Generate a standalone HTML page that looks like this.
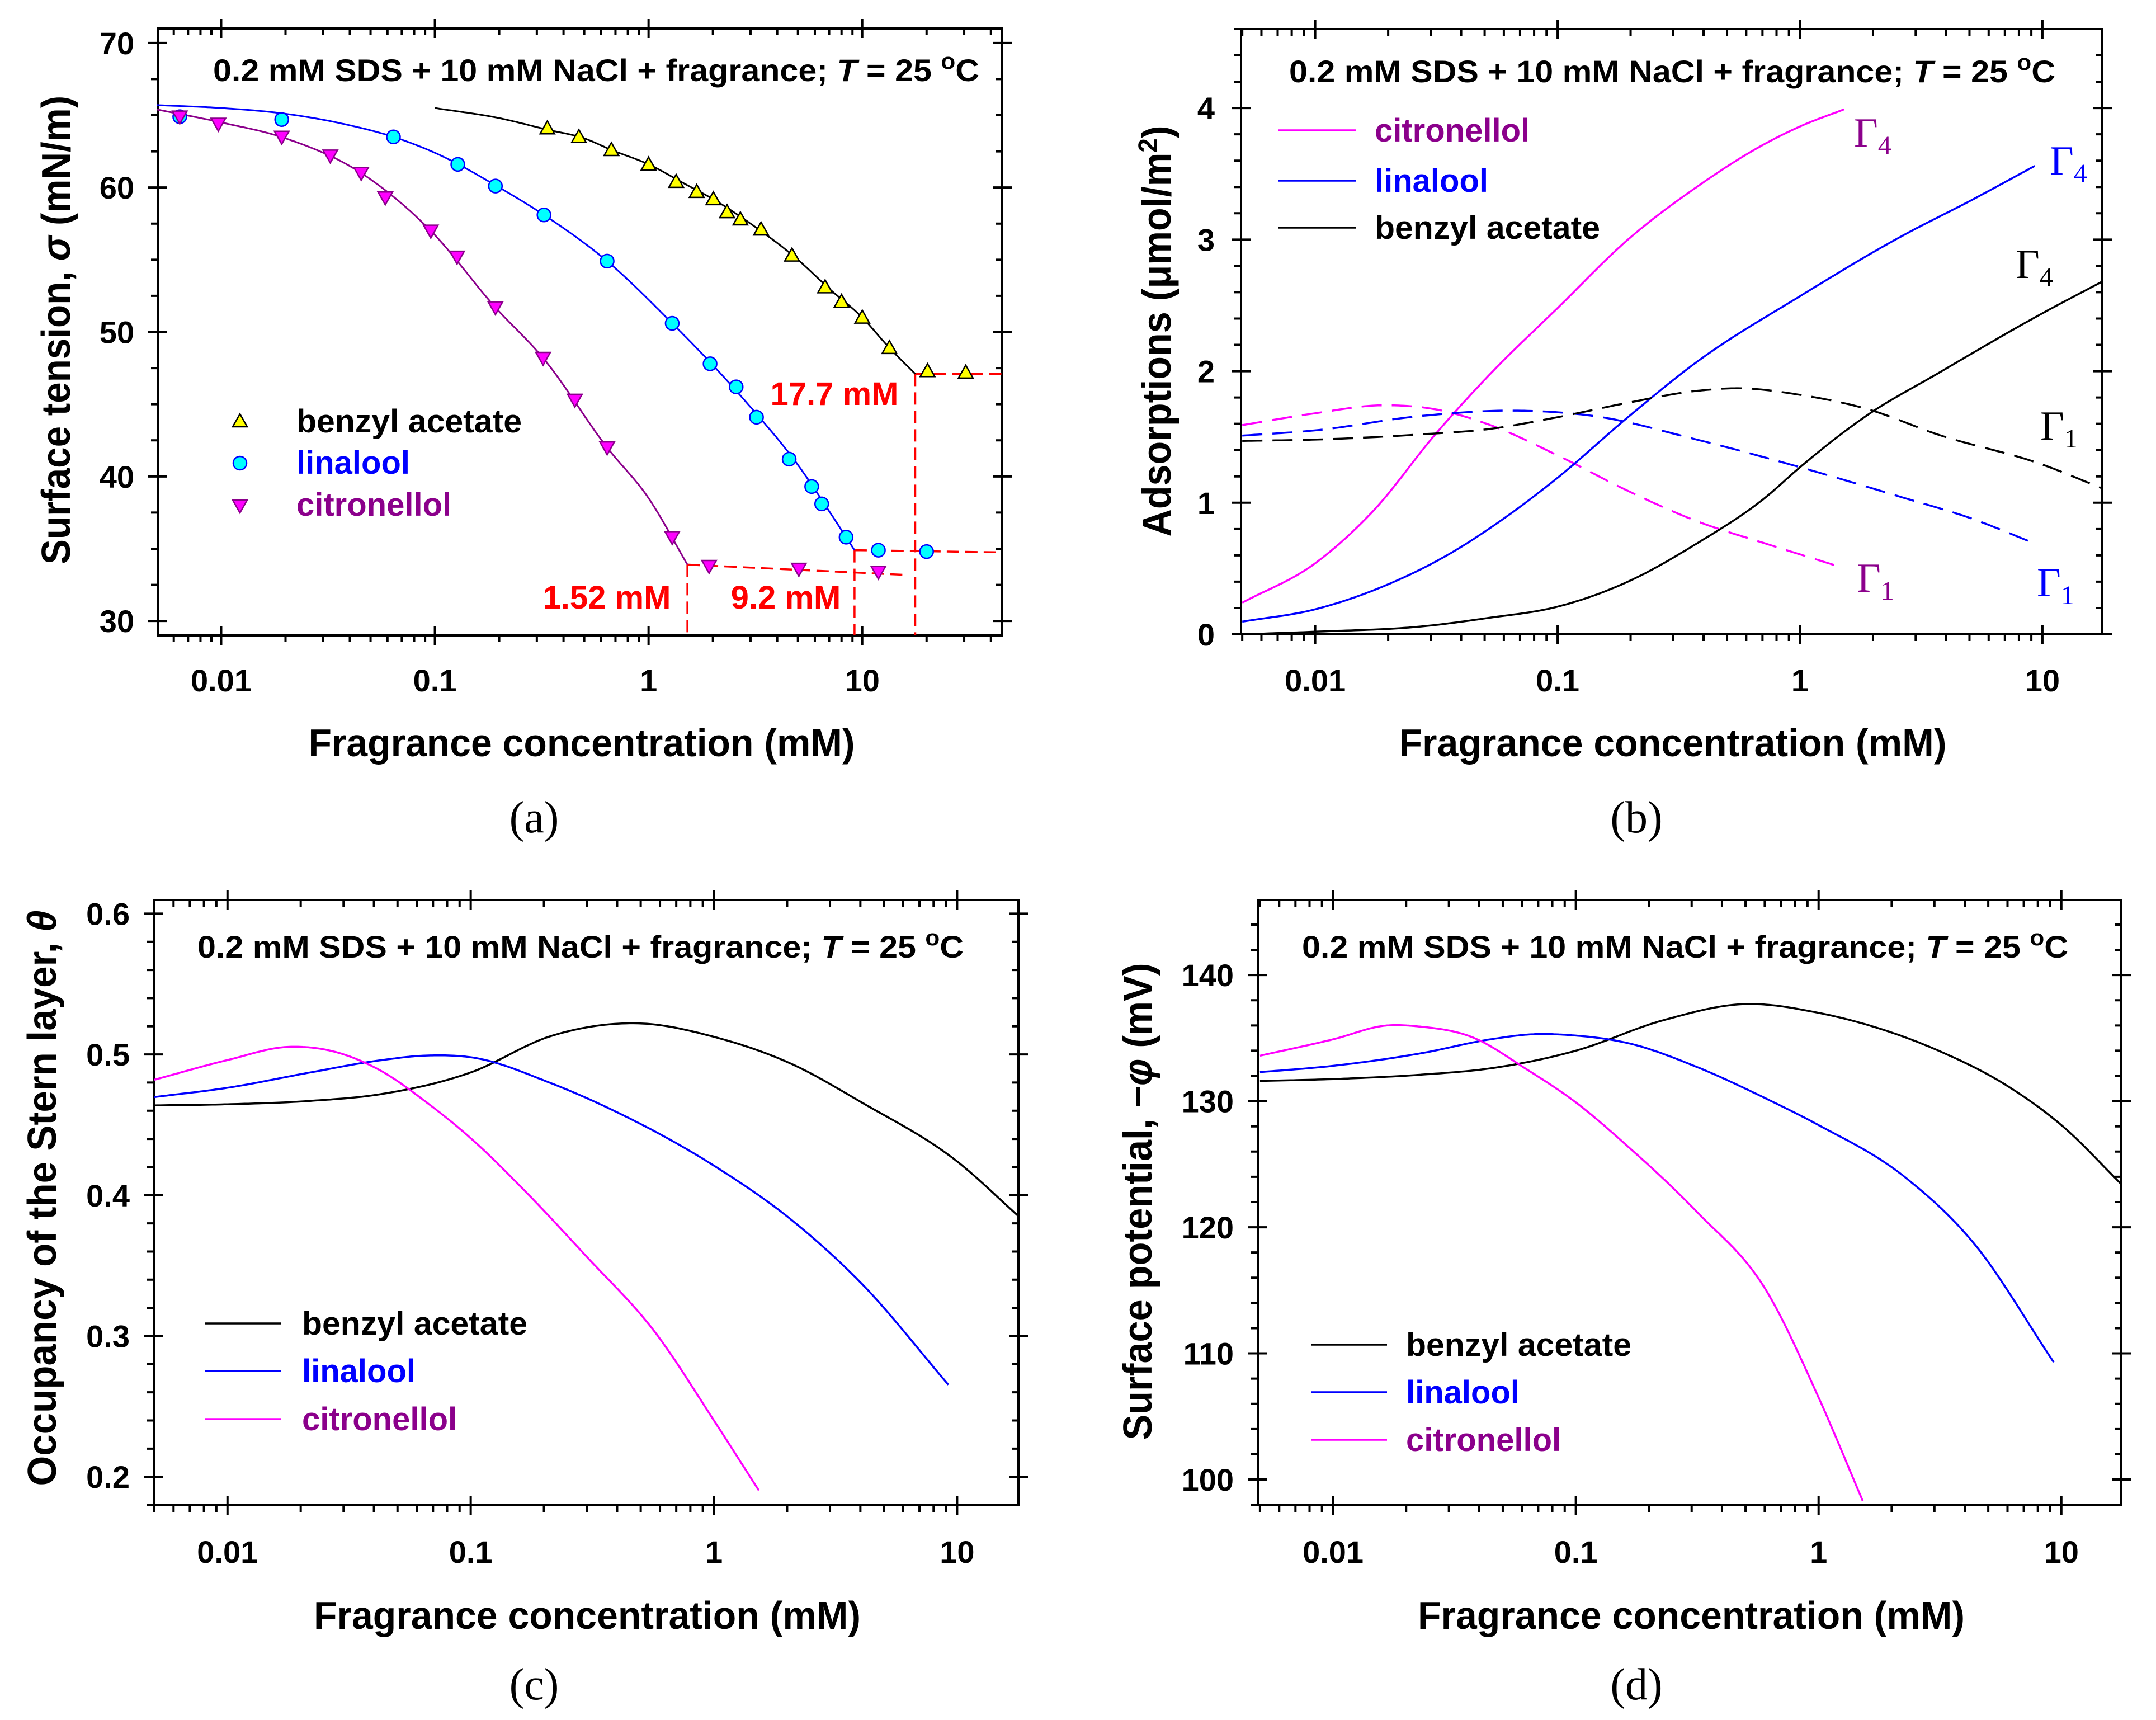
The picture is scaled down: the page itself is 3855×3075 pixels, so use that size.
<!DOCTYPE html>
<html><head><meta charset="utf-8"><style>
html,body{margin:0;padding:0;background:#fff;}
svg{display:block;}
.t{font-family:"Liberation Sans Narrow","Liberation Sans",sans-serif;font-weight:bold;}
.w{font-family:"Liberation Sans",sans-serif;font-weight:bold;}
.s{font-family:"Liberation Serif",serif;}
</style></head><body>
<svg id="fig" width="3855" height="3075" viewBox="0 0 3855 3075" xmlns="http://www.w3.org/2000/svg"></svg>
<script>
// ---------- Panel (a) data ----------
const aBenzylPtsX=[0.336,0.472,0.67,1.0,1.346,1.68,2.01,2.33,2.69,3.36,4.69,6.7,8.0,10,13.4,20.2,30.5];
const aBenzylPtsY=[64.1,63.5,62.6,61.6,60.4,59.7,59.2,58.3,57.8,57.1,55.3,53.1,52.1,51.0,48.9,47.3,47.2];
const aBenzylFitX=[0.1,0.2,0.336,0.5,0.67,1,1.5,2,3,5,7,10,13.4,17.7];
const aBenzylFitY=[65.5,64.8,64.0,63.4,62.6,61.6,60.2,59.2,57.5,55.0,53.0,51.0,48.9,47.1];
const aLinaloolPtsX=[0.0064,0.0192,0.064,0.128,0.192,0.324,0.64,1.29,1.94,2.57,3.2,4.55,5.8,6.46,8.4,11.9,20];
const aLinaloolPtsY=[64.9,64.7,63.5,61.6,60.1,58.1,54.9,50.6,47.8,46.2,44.1,41.2,39.3,38.1,35.8,34.9,34.8];
const aLinaloolFitX=[0.005,0.01,0.02,0.04,0.064,0.1,0.2,0.324,0.64,1.29,2,3,5,7,9.2];
const aLinaloolFitY=[65.7,65.5,65.1,64.3,63.5,62.4,60.0,58.1,54.9,50.6,47.7,44.8,40.8,37.6,34.9];
const aCitroPtsX=[0.0064,0.0097,0.0192,0.0324,0.0452,0.0586,0.0957,0.127,0.192,0.321,0.452,0.64,1.29,1.92,5.05,11.9];
const aCitroPtsY=[64.9,64.4,63.5,62.2,61.0,59.3,57.0,55.2,51.7,48.2,45.3,42.0,35.8,33.8,33.6,33.4];
const aCitroFitX=[0.005,0.01,0.02,0.0452,0.0957,0.192,0.321,0.64,1.0,1.52];
const aCitroFitY=[65.4,64.5,63.4,61.0,57.0,51.7,48.2,42.0,38.5,33.9];
const aCmcX=[17.7,9.2,1.52];
const aCmcY=[47.1,34.9,33.9];
const aCmcEndX=[45,45,15.4];
const aCmcEndY=[47.1,34.75,33.2];
const aCmcLabels=["17.7 mM","9.2 mM","1.52 mM"];
const aYTicks=[30,40,50,60,70];
// ---------- Panel (b) data ----------
const bCitroG4X=[0.005,0.01,0.0174,0.0313,0.0528,0.1,0.195,0.375,0.72,1.0,1.52];
const bCitroG4Y=[0.24,0.54,0.94,1.52,1.98,2.48,3.0,3.40,3.73,3.86,3.99];
const bCitroG1X=[0.005,0.01,0.0186,0.0313,0.0528,0.1,0.195,0.375,0.72,1.48];
const bCitroG1Y=[1.59,1.68,1.74,1.71,1.59,1.36,1.09,0.86,0.69,0.51];
const bLinG4X=[0.005,0.01,0.02,0.0357,0.06,0.1,0.195,0.375,1.0,2.65,5.1,9.3];
const bLinG4Y=[0.096,0.19,0.38,0.61,0.88,1.19,1.65,2.07,2.57,3.03,3.30,3.56];
const bLinG1X=[0.005,0.01,0.0275,0.0686,0.14,0.375,1.0,2.65,5.1,9.3];
const bLinG1Y=[1.51,1.55,1.66,1.70,1.66,1.48,1.27,1.04,0.88,0.69];
const bBenG4X=[0.005,0.01,0.0275,0.052,0.1,0.195,0.375,0.72,1.0,1.91,3.68,10,17.6];
const bBenG4Y=[0.0,0.02,0.06,0.125,0.21,0.40,0.69,1.04,1.27,1.67,1.98,2.44,2.68];
const bBenG1X=[0.005,0.01,0.0275,0.052,0.1,0.195,0.375,0.555,1.0,1.91,3.68,10,17.6];
const bBenG1Y=[1.47,1.48,1.52,1.56,1.65,1.76,1.85,1.87,1.82,1.71,1.52,1.29,1.11];
const bYTicks=[0,1,2,3,4];
// ---------- Panel (c) data ----------
const cBenX=[0.005,0.01,0.0219,0.042,0.1,0.215,0.5,1,2.1,4.06,10,17.9];
const cBenY=[0.4638,0.4646,0.467,0.4716,0.4872,0.5132,0.522,0.5125,0.493,0.4658,0.424,0.385];
const cLinX=[0.005,0.01,0.0219,0.042,0.066,0.1,0.215,0.41,1,2.1,4.06,9.2];
const cLinY=[0.4697,0.4763,0.4872,0.4957,0.4992,0.498,0.4794,0.458,0.421,0.382,0.337,0.2654];
const cCitX=[0.005,0.01,0.018,0.0264,0.042,0.066,0.1,0.166,0.298,0.575,1,1.53];
const cCitY=[0.482,0.496,0.5054,0.5027,0.4891,0.4658,0.4405,0.4035,0.3568,0.3023,0.240,0.1903];
const cYTicks=[0.2,0.3,0.4,0.5,0.6];
// ---------- Panel (d) data ----------
const dBenX=[0.005,0.01,0.0231,0.0445,0.1,0.228,0.5,1,1.62,3.12,6.0,10,17.7];
const dBenY=[131.6,131.75,132.1,132.6,134.0,136.4,137.7,137.0,136.0,134.0,131.2,128.1,123.4];
const dLinX=[0.005,0.01,0.0231,0.0445,0.0658,0.1,0.164,0.316,0.608,1,2.26,4.33,9.3];
const dLinY=[132.3,132.8,133.8,134.9,135.3,135.2,134.6,132.7,130.2,128.1,124.0,118.8,109.3];
const dCitX=[0.005,0.01,0.0167,0.0231,0.0371,0.063,0.1,0.164,0.316,0.608,1,1.52];
const dCitY=[133.6,134.9,136.0,135.9,135.1,132.5,129.9,126.4,121.2,115.0,106.5,98.3];
const dYTicks=[100,110,120,130,140];
const xTickVals=[0.01,0.1,1,10];
const xTickLabels=["0.01","0.1","1","10"];

const NS="http://www.w3.org/2000/svg";
const svg=document.getElementById('fig');
function mk(tag,attrs,parent){const e=document.createElementNS(NS,tag);for(const k in attrs)e.setAttribute(k,attrs[k]);(parent||svg).appendChild(e);return e;}

function makeAxes(P){
  P.sx=v=>P.x0+(Math.log10(v)-P.lx0)/(P.lx1-P.lx0)*(P.x1-P.x0);
  P.sy=v=>P.y1-(v-P.v0)/(P.v1-P.v0)*(P.y1-P.y0);
  const g=mk('g',{});
  
  
  const fr=mk('rect',{x:P.x0,y:P.y0,width:P.x1-P.x0,height:P.y1-P.y0,fill:'none',stroke:'#000','stroke-width':4},g);
  
  
  let d='';
  for(let n=-3;n<=2;n++){for(let k=1;k<=9;k++){const v=k*Math.pow(10,n);const lv=Math.log10(v);if(lv<P.lx0||lv>P.lx1)continue;const x=P.sx(v);
    if(k===1){d+=`M${x},${P.y1-17}V${P.y1+17}M${x},${P.y0-17}V${P.y0+17}`;}
    else{d+=`M${x},${P.y1}V${P.y1+12}M${x},${P.y0}V${P.y0+12}`;}}}
  for(let v=P.v0ceil;v<=P.v1+1e-9;v+=P.minor){const y=P.sy(v);const isMaj=Math.abs(v/P.major-Math.round(v/P.major))<1e-6;
    if(isMaj){d+=`M${P.x0-17},${y}H${P.x0+17}M${P.x1-17},${y}H${P.x1+17}`;}
    else{d+=`M${P.x0-12},${y}H${P.x0}M${P.x1-12},${y}H${P.x1}`;}}
  const tk=mk('path',{d:d,stroke:'#000','stroke-width':4,fill:'none'},g);
  
  
  xTickVals.forEach((v,i)=>{const t=mk('text',{x:P.sx(v),y:P.xlabY,'text-anchor':'middle','font-size':56,class:'t'},g);t.textContent=xTickLabels[i];
    
    });
  P.yt.forEach(v=>{const t=mk('text',{x:P.ylabX,y:P.sy(v)+20,'text-anchor':'end','font-size':56,class:'t'},g);t.textContent=P.fmt(v);
    
    });
  return P;
}
function curve(P,xs,ys,color,dash,name,w){
  const lx=xs.map(v=>Math.log10(v));const n=lx.length;
  const s=[];for(let i=0;i<n-1;i++)s.push((ys[i+1]-ys[i])/(lx[i+1]-lx[i]));
  const m=[];
  for(let i=0;i<n;i++){
    if(i===0)m.push(s[0]);else if(i===n-1)m.push(s[n-2]);
    else{const h0=lx[i]-lx[i-1],h1=lx[i+1]-lx[i];m.push((h1*s[i-1]+h0*s[i])/(h0+h1));}
  }
  let d='';
  for(let i=0;i<n-1;i++){
    const h=lx[i+1]-lx[i];const steps=24;
    for(let k=(i===0?0:1);k<=steps;k++){
      const t=k/steps,t2=t*t,t3=t2*t;
      const y=(2*t3-3*t2+1)*ys[i]+(t3-2*t2+t)*h*m[i]+(-2*t3+3*t2)*ys[i+1]+(t3-t2)*h*m[i+1];
      const X=P.sx(Math.pow(10,lx[i]+t*h)),Y=P.sy(y);
      d+=(d===''?'M':'L')+X.toFixed(1)+','+Y.toFixed(1);
    }
  }
  const e=mk('path',{d:d,fill:'none',stroke:color,'stroke-width':w||3.5,'stroke-linejoin':'round'});
  if(dash)e.setAttribute('stroke-dasharray',dash);
  
  
  return e;
}
function txt(x,y,s,size,cls,attrs,name){const t=mk('text',Object.assign({x:x,y:y,'font-size':size,class:cls},attrs||{}));t.innerHTML=s;
  
  
  return t;}
const TITLE='0.2 mM SDS + 10 mM NaCl + fragrance; <tspan font-style="italic">T</tspan> = 25 <tspan dy="-22" font-size="40">o</tspan><tspan dy="22">C</tspan>';
const TL={textLength:1370,lengthAdjust:'spacingAndGlyphs','text-anchor':'middle'};

// ===== Panel A =====
const A=makeAxes({name:'panel-a',x0:282,x1:1792,y0:51,y1:1136,lx0:-2.297,lx1:1.655,v0:29,v1:71,v0ceil:30,minor:2.5,major:10,yt:aYTicks,fmt:v=>String(v),xlabY:1236,ylabX:240});
aCmcX.forEach((c,i)=>{const x=A.sx(c),y=A.sy(aCmcY[i]);
  const l=mk('path',{d:`M${x},${y}L${A.sx(aCmcEndX[i])},${A.sy(aCmcEndY[i])}M${x},${y}V${A.y1}`,stroke:'#ff0000','stroke-width':3.5,fill:'none','stroke-dasharray':'22 11'});
  
  });
curve(A,aBenzylFitX,aBenzylFitY,'#000',null,'benzyl-fit-line',3);
curve(A,aLinaloolFitX,aLinaloolFitY,'#0000ff',null,'linalool-fit-line',3);
curve(A,aCitroFitX,aCitroFitY,'#8b008b',null,'citronellol-fit-line',3);
function triUp(x,y){return `M${x},${y-13}L${x+13},${y+10}L${x-13},${y+10}Z`;}
function triDn(x,y){return `M${x-13},${y-10}L${x+13},${y-10}L${x},${y+13}Z`;}
aBenzylPtsX.forEach((v,i)=>{const p=mk('path',{d:triUp(A.sx(v),A.sy(aBenzylPtsY[i])),fill:'#ffff00',stroke:'#000','stroke-width':2.5});
  
  });
aLinaloolPtsX.forEach((v,i)=>{const p=mk('circle',{cx:A.sx(v),cy:A.sy(aLinaloolPtsY[i]),r:12,fill:'#00ffff',stroke:'#0000ff','stroke-width':2.5});
  
  });
aCitroPtsX.forEach((v,i)=>{const p=mk('path',{d:triDn(A.sx(v),A.sy(aCitroPtsY[i])),fill:'#ff00ff',stroke:'#8b008b','stroke-width':2.5});
  
  });
txt(1492,724,aCmcLabels[0],58,'t',{fill:'#ff0000','text-anchor':'middle'},'cmc-label-benzyl');
txt(1405,1088,aCmcLabels[1],58,'t',{fill:'#ff0000','text-anchor':'middle'},'cmc-label-linalool');
txt(1085,1088,aCmcLabels[2],58,'t',{fill:'#ff0000','text-anchor':'middle'},'cmc-label-citronellol');
{const e1=mk('path',{d:triUp(429,753),fill:'#ffff00',stroke:'#000','stroke-width':2.5});
 const e2=mk('circle',{cx:429,cy:828,r:12,fill:'#00ffff',stroke:'#0000ff','stroke-width':2.5});
 const e3=mk('path',{d:triDn(429,904),fill:'#ff00ff',stroke:'#8b008b','stroke-width':2.5});}
txt(530,773,'benzyl acetate',58,'t',{fill:'#000',textLength:403,lengthAdjust:'spacingAndGlyphs'},'legend-benzyl');
txt(530,847,'linalool',58,'t',{fill:'#0000ff'},'legend-linalool');
txt(530,922,'citronellol',58,'t',{fill:'#8b008b'},'legend-citronellol');
txt(1066,145,TITLE,56,'t',TL,'title-a');
txt(1040,1352,'Fragrance concentration (mM)',70,'t',{'text-anchor':'middle',textLength:977,lengthAdjust:'spacingAndGlyphs'},'x-axis-title-a');
txt(0,0,'Surface tension, <tspan font-style="italic">σ</tspan> (mN/m)',72,'w',{'text-anchor':'middle',transform:'translate(125,590) rotate(-90)',textLength:838,lengthAdjust:'spacingAndGlyphs'},'y-axis-title-a');
txt(955,1488,'(a)',80,'s',{'text-anchor':'middle'},'panel-label-a');

// ===== Panel B =====
const B=makeAxes({name:'panel-b',x0:2219,x1:3759,y0:52,y1:1134,lx0:-2.306,lx1:1.247,v0:0,v1:4.6,v0ceil:0,minor:0.2,major:1,yt:bYTicks,fmt:v=>String(v),xlabY:1236,ylabX:2172});
curve(B,bCitroG4X,bCitroG4Y,'#ff00ff',null,'citronellol-gamma4');
curve(B,bCitroG1X,bCitroG1Y,'#ff00ff','36 18','citronellol-gamma1');
curve(B,bLinG4X,bLinG4Y,'#0000ff',null,'linalool-gamma4');
curve(B,bLinG1X,bLinG1Y,'#0000ff','36 18','linalool-gamma1');
curve(B,bBenG4X,bBenG4Y,'#000',null,'benzyl-gamma4');
curve(B,bBenG1X,bBenG1Y,'#000','36 18','benzyl-gamma1');
[[2286,233,'#ff00ff'],[2286,323,'#0000ff'],[2286,407,'#000']].forEach((r,i)=>{const l=mk('path',{d:`M${r[0]},${r[1]}H${r[0]+138}`,stroke:r[2],'stroke-width':3.5});
  
  });
txt(2458,253,'citronellol',58,'t',{fill:'#8b008b'},'legend-b-citronellol');
txt(2458,343,'linalool',58,'t',{fill:'#0000ff'},'legend-b-linalool');
txt(2458,427,'benzyl acetate',58,'t',{fill:'#000',textLength:403,lengthAdjust:'spacingAndGlyphs'},'legend-b-benzyl');
const G4='Γ<tspan dy="14" font-size="48">4</tspan>', G1='Γ<tspan dy="14" font-size="48">1</tspan>';
txt(3315,262,G4,74,'s',{fill:'#8b008b'},'label-gamma4-citronellol');
txt(3665,312,G4,74,'s',{fill:'#0000ff'},'label-gamma4-linalool');
txt(3604,497,G4,74,'s',{fill:'#000'},'label-gamma4-benzyl');
txt(3648,786,G1,74,'s',{fill:'#000'},'label-gamma1-benzyl');
txt(3320,1058,G1,74,'s',{fill:'#8b008b'},'label-gamma1-citronellol');
txt(3642,1066,G1,74,'s',{fill:'#0000ff'},'label-gamma1-linalool');
txt(2990,147,TITLE,56,'t',TL,'title-b');
txt(2991,1352,'Fragrance concentration (mM)',70,'t',{'text-anchor':'middle',textLength:979,lengthAdjust:'spacingAndGlyphs'},'x-axis-title-b');
txt(0,0,'Adsorptions (μmol/m<tspan dy="-24" font-size="48">2</tspan><tspan dy="24">)</tspan>',72,'w',{'text-anchor':'middle',transform:'translate(2093,592) rotate(-90)',textLength:735,lengthAdjust:'spacingAndGlyphs'},'y-axis-title-b');
txt(2926,1488,'(b)',80,'s',{'text-anchor':'middle'},'panel-label-b');

// ===== Panel C =====
const C=makeAxes({name:'panel-c',x0:275,x1:1821,y0:1609,y1:2691,lx0:-2.303,lx1:1.252,v0:0.1798,v1:0.6097,v0ceil:0.18,minor:0.02,major:0.1,yt:cYTicks,fmt:v=>v.toFixed(1),xlabY:2794,ylabX:232});
curve(C,cBenX,cBenY,'#000',null,'benzyl-theta-line');
curve(C,cLinX,cLinY,'#0000ff',null,'linalool-theta-line');
curve(C,cCitX,cCitY,'#ff00ff',null,'citronellol-theta-line');
[[367,2366,'#000'],[367,2451,'#0000ff'],[367,2537,'#ff00ff']].forEach((r,i)=>{const l=mk('path',{d:`M${r[0]},${r[1]}H${r[0]+136}`,stroke:r[2],'stroke-width':3.5});
  
  });
txt(540,2386,'benzyl acetate',58,'t',{fill:'#000',textLength:403,lengthAdjust:'spacingAndGlyphs'},'legend-c-benzyl');
txt(540,2471,'linalool',58,'t',{fill:'#0000ff'},'legend-c-linalool');
txt(540,2557,'citronellol',58,'t',{fill:'#8b008b'},'legend-c-citronellol');
txt(1038,1712,TITLE,56,'t',TL,'title-c');
txt(1050,2912,'Fragrance concentration (mM)',70,'t',{'text-anchor':'middle',textLength:978,lengthAdjust:'spacingAndGlyphs'},'x-axis-title-c');
txt(0,0,'Occupancy of the Stern layer, <tspan font-style="italic">θ</tspan>',72,'w',{'text-anchor':'middle',transform:'translate(100,2142) rotate(-90)',textLength:1029,lengthAdjust:'spacingAndGlyphs'},'y-axis-title-c');
txt(955,3038,'(c)',80,'s',{'text-anchor':'middle'},'panel-label-c');

// ===== Panel D =====
const D=makeAxes({name:'panel-d',x0:2249,x1:3793,y0:1609,y1:2691,lx0:-2.31,lx1:1.247,v0:97.96,v1:145.95,v0ceil:98,minor:2,major:10,yt:dYTicks,fmt:v=>String(v),xlabY:2794,ylabX:2206});
curve(D,dBenX,dBenY,'#000',null,'benzyl-potential-line');
curve(D,dLinX,dLinY,'#0000ff',null,'linalool-potential-line');
curve(D,dCitX,dCitY,'#ff00ff',null,'citronellol-potential-line');
[[2344,2404,'#000'],[2344,2489,'#0000ff'],[2344,2574,'#ff00ff']].forEach((r,i)=>{const l=mk('path',{d:`M${r[0]},${r[1]}H${r[0]+136}`,stroke:r[2],'stroke-width':3.5});
  
  });
txt(2514,2424,'benzyl acetate',58,'t',{fill:'#000',textLength:403,lengthAdjust:'spacingAndGlyphs'},'legend-d-benzyl');
txt(2514,2509,'linalool',58,'t',{fill:'#0000ff'},'legend-d-linalool');
txt(2514,2594,'citronellol',58,'t',{fill:'#8b008b'},'legend-d-citronellol');
txt(3013,1712,TITLE,56,'t',TL,'title-d');
txt(3024,2912,'Fragrance concentration (mM)',70,'t',{'text-anchor':'middle',textLength:978,lengthAdjust:'spacingAndGlyphs'},'x-axis-title-d');
txt(0,0,'Surface potential, −<tspan font-style="italic">φ</tspan> (mV)',72,'w',{'text-anchor':'middle',transform:'translate(2059,2148) rotate(-90)',textLength:853,lengthAdjust:'spacingAndGlyphs'},'y-axis-title-d');
txt(2926,3038,'(d)',80,'s',{'text-anchor':'middle'},'panel-label-d');
</script>
</body></html>
